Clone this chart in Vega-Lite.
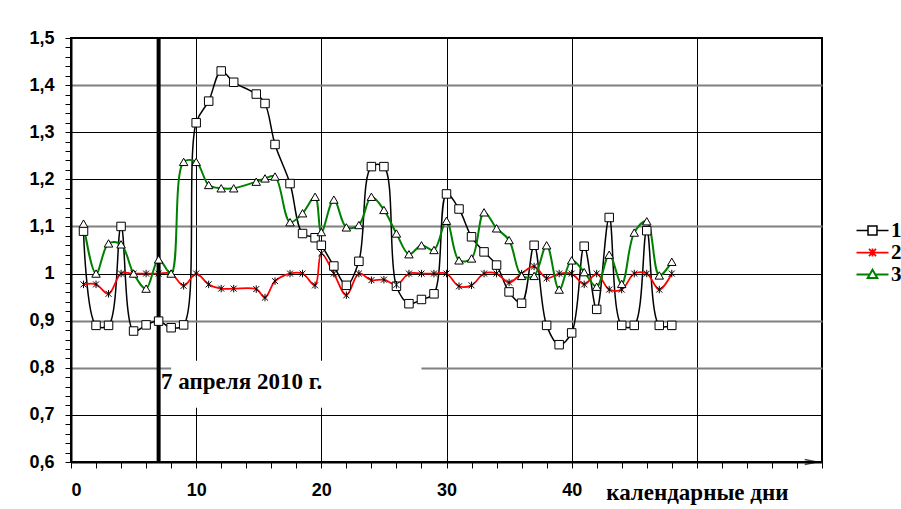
{
  "$schema": "https://vega.github.io/schema/vega-lite/v6.json",
  "width": 751,
  "height": 424,
  "autosize": "none",
  "padding": {"left": 71, "top": 38, "right": 79, "bottom": 47},
  "background": "white",
  "config": {
    "font": "Liberation Sans",
    "view": {"stroke": "black", "strokeWidth": 2}
  },
  "data": {"values": [
    {"x":1,"s":"1","v":1.09},{"x":2,"s":"1","v":0.89},{"x":3,"s":"1","v":0.89},{"x":4,"s":"1","v":1.1},{"x":5,"s":"1","v":0.878},{"x":6,"s":"1","v":0.891},{"x":7,"s":"1","v":0.899},{"x":8,"s":"1","v":0.885},{"x":9,"s":"1","v":0.891},{"x":10,"s":"1","v":1.32},{"x":11,"s":"1","v":1.366},{"x":12,"s":"1","v":1.43},{"x":13,"s":"1","v":1.406},{"x":14.8,"s":"1","v":1.381},{"x":15.5,"s":"1","v":1.361},{"x":16.3,"s":"1","v":1.274},{"x":17.5,"s":"1","v":1.191},{"x":18.5,"s":"1","v":1.085},{"x":19.5,"s":"1","v":1.076},{"x":20,"s":"1","v":1.06},{"x":21,"s":"1","v":1.016},{"x":22,"s":"1","v":0.975},{"x":23,"s":"1","v":1.026},{"x":24,"s":"1","v":1.227},{"x":25,"s":"1","v":1.227},{"x":26,"s":"1","v":0.973},{"x":27,"s":"1","v":0.936},{"x":28,"s":"1","v":0.945},{"x":29,"s":"1","v":0.957},{"x":30,"s":"1","v":1.169},{"x":31,"s":"1","v":1.137},{"x":32,"s":"1","v":1.078},{"x":33,"s":"1","v":1.046},{"x":34,"s":"1","v":1.018},{"x":35,"s":"1","v":0.961},{"x":36,"s":"1","v":0.937},{"x":37,"s":"1","v":1.06},{"x":38,"s":"1","v":0.89},{"x":39,"s":"1","v":0.849},{"x":40,"s":"1","v":0.874},{"x":41,"s":"1","v":1.058},{"x":42,"s":"1","v":0.924},{"x":43,"s":"1","v":1.119},{"x":44,"s":"1","v":0.89},{"x":45,"s":"1","v":0.89},{"x":46,"s":"1","v":1.091},{"x":47,"s":"1","v":0.89},{"x":48,"s":"1","v":0.89},
    {"x":1,"s":"2","v":0.977},{"x":2,"s":"2","v":0.977},{"x":3,"s":"2","v":0.957},{"x":4,"s":"2","v":1.0},{"x":5,"s":"2","v":1.0},{"x":6,"s":"2","v":1.0},{"x":7,"s":"2","v":1.0},{"x":8,"s":"2","v":1.0},{"x":9,"s":"2","v":0.974},{"x":10,"s":"2","v":1.0},{"x":11,"s":"2","v":0.977},{"x":12,"s":"2","v":0.968},{"x":13,"s":"2","v":0.968},{"x":14.8,"s":"2","v":0.967},{"x":15.5,"s":"2","v":0.949},{"x":16.3,"s":"2","v":0.984},{"x":17.5,"s":"2","v":1.0},{"x":18.5,"s":"2","v":1.0},{"x":19.5,"s":"2","v":0.975},{"x":20,"s":"2","v":1.043},{"x":21,"s":"2","v":1.0},{"x":22,"s":"2","v":0.954},{"x":23,"s":"2","v":1.0},{"x":24,"s":"2","v":0.986},{"x":25,"s":"2","v":0.987},{"x":26,"s":"2","v":0.976},{"x":27,"s":"2","v":1.0},{"x":28,"s":"2","v":1.0},{"x":29,"s":"2","v":1.0},{"x":30,"s":"2","v":1.0},{"x":31,"s":"2","v":0.973},{"x":32,"s":"2","v":0.975},{"x":33,"s":"2","v":1.0},{"x":34,"s":"2","v":1.0},{"x":35,"s":"2","v":0.981},{"x":36,"s":"2","v":1.0},{"x":37,"s":"2","v":1.015},{"x":38,"s":"2","v":0.99},{"x":39,"s":"2","v":1.0},{"x":40,"s":"2","v":1.0},{"x":41,"s":"2","v":0.977},{"x":42,"s":"2","v":1.0},{"x":43,"s":"2","v":0.966},{"x":44,"s":"2","v":0.966},{"x":45,"s":"2","v":1.0},{"x":46,"s":"2","v":1.0},{"x":47,"s":"2","v":0.966},{"x":48,"s":"2","v":1.0},
    {"x":1,"s":"3","v":1.106},{"x":2,"s":"3","v":1.0},{"x":3,"s":"3","v":1.064},{"x":4,"s":"3","v":1.062},{"x":5,"s":"3","v":1.0},{"x":6,"s":"3","v":0.968},{"x":7,"s":"3","v":1.03},{"x":8,"s":"3","v":1.0},{"x":9,"s":"3","v":1.237},{"x":10,"s":"3","v":1.237},{"x":11,"s":"3","v":1.188},{"x":12,"s":"3","v":1.181},{"x":13,"s":"3","v":1.181},{"x":14.8,"s":"3","v":1.195},{"x":15.5,"s":"3","v":1.202},{"x":16.3,"s":"3","v":1.206},{"x":17.5,"s":"3","v":1.109},{"x":18.5,"s":"3","v":1.128},{"x":19.5,"s":"3","v":1.163},{"x":20,"s":"3","v":1.088},{"x":21,"s":"3","v":1.157},{"x":22,"s":"3","v":1.098},{"x":23,"s":"3","v":1.103},{"x":24,"s":"3","v":1.163},{"x":25,"s":"3","v":1.135},{"x":26,"s":"3","v":1.085},{"x":27,"s":"3","v":1.041},{"x":28,"s":"3","v":1.06},{"x":29,"s":"3","v":1.05},{"x":30,"s":"3","v":1.112},{"x":31,"s":"3","v":1.028},{"x":32,"s":"3","v":1.032},{"x":33,"s":"3","v":1.13},{"x":34,"s":"3","v":1.096},{"x":35,"s":"3","v":1.071},{"x":36,"s":"3","v":0.995},{"x":37,"s":"3","v":0.995},{"x":38,"s":"3","v":1.06},{"x":39,"s":"3","v":0.966},{"x":40,"s":"3","v":1.028},{"x":41,"s":"3","v":1.003},{"x":42,"s":"3","v":0.972},{"x":43,"s":"3","v":1.04},{"x":44,"s":"3","v":0.978},{"x":45,"s":"3","v":1.087},{"x":46,"s":"3","v":1.111},{"x":47,"s":"3","v":0.996},{"x":48,"s":"3","v":1.025}
  ]},
  "layer": [
    {
      "data": {"values": [{}]},
      "mark": {"type": "rect", "fill": "white"},
      "encoding": {
        "x": {"datum": 8, "type": "quantitative", "scale": {"domain": [0, 60], "nice": false, "zero": false},
          "axis": {
            "title": null,
            "tickCount": 200,
            "format": "d",
            "values": [0,2,4,6,8,10,12,14,16,18,20,22,24,26,28,30,32,34,36,38,40,42,44,46,48,50,52,54,56,58,60],
            "domainColor": "black", "domainWidth": 2,
            "tickColor": "black", "tickSize": 6, "tickWidth": 1,
            "labelOverlap": false, "labelPadding": 13, "labelColor": "black", "labelFontWeight": "bold", "labelLimit": 400,
            "labelFontSize": {"condition": {"test": "datum.value == 50", "value": 23}, "value": 18},
            "labelFont": {"condition": {"test": "datum.value == 50", "value": "Liberation Serif"}, "value": "Liberation Sans"},
            "labelExpr": "datum.value == 50 ? 'календарные дни' : ((datum.value % 10 == 0 && datum.value <= 40) ? datum.label : '')",
            "grid": true, "gridColor": "black", "gridWidth": 1,
            "gridOpacity": {"condition": {"test": "datum.value % 10 == 0 && datum.value > 0 && datum.value < 60", "value": 1}, "value": 0}
          }
        },
        "x2": {"datum": 28},
        "y": {"datum": 0.815, "type": "quantitative", "scale": {"domain": [0.6, 1.5], "nice": false, "zero": false},
          "axis": {
            "title": null,
            "tickCount": 200,
            "values": [0.6,0.62,0.64,0.66,0.68,0.7,0.72,0.74,0.76,0.78,0.8,0.82,0.84,0.86,0.88,0.9,0.92,0.94,0.96,0.98,1.0,1.02,1.04,1.06,1.08,1.1,1.12,1.14,1.16,1.18,1.2,1.22,1.24,1.26,1.28,1.3,1.32,1.34,1.36,1.38,1.4,1.42,1.44,1.46,1.48,1.5],
            "domainColor": "black", "domainWidth": 2,
            "tickColor": "black", "tickSize": 6, "tickWidth": 1,
            "labelOverlap": false, "labelPadding": 11, "labelColor": "black", "labelFontWeight": "bold", "labelFontSize": 18,
            "labelExpr": "abs(datum.value*10 - round(datum.value*10)) < 0.001 ? (abs(datum.value - 1) < 0.001 ? '1' : replace(format(datum.value, '.1f'), '.', ',')) : ''",
            "grid": true,
            "gridColor": {"condition": {"test": "abs(datum.value-1.4)<0.001 || abs(datum.value-1.1)<0.001 || abs(datum.value-0.9)<0.001 || abs(datum.value-0.8)<0.001", "value": "#808080"}, "value": "#000000"},
            "gridWidth": {"condition": {"test": "abs(datum.value-1.4)<0.001 || abs(datum.value-1.1)<0.001 || abs(datum.value-0.9)<0.001 || abs(datum.value-0.8)<0.001", "value": 2}, "value": 1},
            "gridOpacity": {"condition": {"test": "abs(datum.value*10 - round(datum.value*10)) < 0.001 && datum.value > 0.65 && datum.value < 1.45", "value": 1}, "value": 0}
          }
        },
        "y2": {"datum": 0.715}
      }
    },
    {
      "mark": {"type": "line", "interpolate": "catmull-rom"},
      "encoding": {
        "x": {"field": "x", "type": "quantitative"},
        "y": {"field": "v", "type": "quantitative"},
        "color": {"field": "s", "type": "nominal",
          "scale": {"domain": ["1", "2", "3"], "range": ["#000000", "#ff0000", "#008000"]},
          "legend": {
            "title": null, "orient": "none", "legendX": 791, "legendY": 182,
            "padding": 0, "rowPadding": 0,
            "symbolSize": 256, "symbolFillColor": "white", "symbolStrokeWidth": 2, "symbolOpacity": 1,
            "labelFont": "Liberation Serif", "labelFontSize": 21, "labelFontWeight": "bold", "labelColor": "black", "labelOffset": 8,
            "encode": {"symbols": {"update": {"shape": {"signal": "datum.value == '1' ? 'M-2,0H-0.56M0.56,0H2M-0.56,-0.56H0.56V0.56H-0.56Z' : (datum.value == '2' ? 'M-2,0H2M0,-0.5V0.5M-0.44,-0.44L0.44,0.44M-0.44,0.44L0.44,-0.44' : 'M-2,0H-0.34M0.34,0H2M0,-0.6L0.6,0.44H-0.6Z')"}}}}
          }
        },
        "strokeWidth": {"field": "s", "type": "ordinal", "scale": {"domain": ["1", "2", "3"], "range": [1.5, 2, 1.7]}, "legend": null}
      }
    },
    {
      "data": {"values": [{}]},
      "mark": {"type": "rule", "color": "black", "strokeWidth": 4},
      "encoding": {"x": {"datum": 7}}
    },
    {
      "data": {"values": [{}]},
      "mark": {"type": "text", "text": "7 апреля 2010 г.", "font": "Liberation Serif", "fontWeight": "bold", "fontSize": 23, "align": "left", "baseline": "alphabetic", "color": "black"},
      "encoding": {"x": {"datum": 7.2}, "y": {"datum": 0.754}}
    },
    {
      "data": {"values": [{}]},
      "mark": {"type": "point", "shape": "M-1,-0.4L1,0L-1,0.4", "filled": false, "stroke": "black", "strokeWidth": 1.5, "size": 144, "clip": false},
      "encoding": {"x": {"datum": 59.1}, "y": {"datum": 0.6}}
    },
    {
      "mark": {"type": "point", "filled": true, "fill": "white", "stroke": "black", "strokeWidth": 1, "opacity": 1},
      "encoding": {
        "x": {"field": "x", "type": "quantitative"},
        "y": {"field": "v", "type": "quantitative"},
        "shape": {"condition": [{"test": "datum.s == '1'", "value": "square"}, {"test": "datum.s == '2'", "value": "M0,-1V1M-0.8,-0.8L0.8,0.8M-0.8,0.8L0.8,-0.8"}], "value": "triangle-up"},
        "size": {"condition": {"test": "datum.s == '2'", "value": 56}, "value": 72}
      }
    }
  ]
}
